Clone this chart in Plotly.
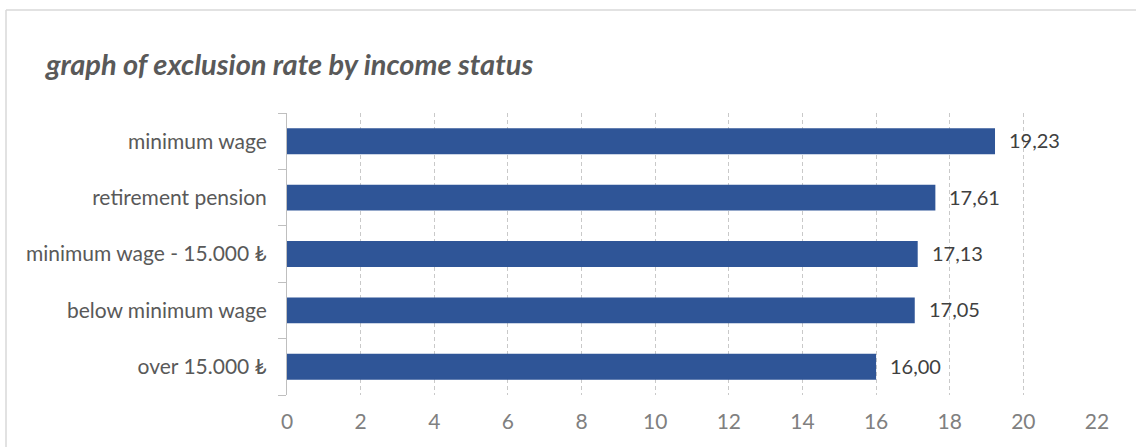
import plotly.graph_objects as go

# Income groups (top to bottom as displayed) and their exclusion rates
categories = [
    "minimum wage",
    "retirement pension",
    "minimum wage - 15.000 ₺",
    "below minimum wage",
    "over 15.000 ₺",
]
rates = [19.23, 17.61, 17.13, 17.05, 16.00]
x_ticks = [0, 2, 4, 6, 8, 10, 12, 14, 16, 18, 20, 22]

W, H = 1136, 447
L, R, T, B = 287, 39, 113, 52
pw, ph = W - L - R, H - T - B

bar_color = "#2F5597"
font_family = "Lato, 'Noto Sans', sans-serif"

fig = go.Figure()
fig.add_trace(go.Bar(
    y=categories,
    x=rates,
    orientation="h",
    marker=dict(color=bar_color, line=dict(width=0)),
    width=0.46,
    hoverinfo="skip",
))

# value labels with comma decimal separator
for cat, val in zip(categories, rates):
    fig.add_annotation(
        x=val, y=cat, xref="x", yref="y",
        text=f"{val:.2f}".replace(".", ","),
        showarrow=False, xanchor="left", yanchor="middle",
        xshift=12, yshift=1,
        font=dict(family=font_family, size=20, color="#404040"),
    )

# outer chart frame (left and top edges)
fx0 = (6 - L) / pw
fy1 = (H - B - 10) / ph
fig.add_shape(type="line", xref="paper", yref="paper",
              x0=fx0, x1=fx0, y0=-0.5, y1=fy1,
              line=dict(color="#D9D9D9", width=1.5))
fig.add_shape(type="line", xref="paper", yref="paper",
              x0=fx0, x1=1.2, y0=fy1, y1=fy1,
              line=dict(color="#D9D9D9", width=1.5))

fig.update_layout(
    width=W, height=H,
    margin=dict(l=L, r=R, t=T, b=B),
    paper_bgcolor="white",
    plot_bgcolor="white",
    showlegend=False,
    title=dict(
        text="<b><i>graph of exclusion rate by income status</i></b>",
        x=46 / W, xanchor="left", xref="container",
        y=1 - 65 / H, yanchor="middle", yref="container",
        font=dict(family=font_family, size=29, color="#595959"),
    ),
    xaxis=dict(
        range=[0, 22],
        tickvals=x_ticks,
        ticktext=[str(v) for v in x_ticks],
        showgrid=True, gridcolor="#C9C9C9", griddash="4px,3px", gridwidth=1,
        zeroline=False, showline=False, ticks="",
        tickfont=dict(family=font_family, size=21, color="#808080"),
        ticklabelstandoff=12,
        fixedrange=True,
    ),
    yaxis=dict(
        categoryorder="array",
        categoryarray=categories[::-1],
        showgrid=False, zeroline=False,
        showline=True, linecolor="#BFBFBF", linewidth=1,
        ticks="outside", tickson="boundaries", ticklen=8, tickcolor="#BFBFBF",
        tickfont=dict(family=font_family, size=21, color="#595959"),
        ticklabelstandoff=15,
        fixedrange=True,
    ),
)

fig.write_html("out.html")
